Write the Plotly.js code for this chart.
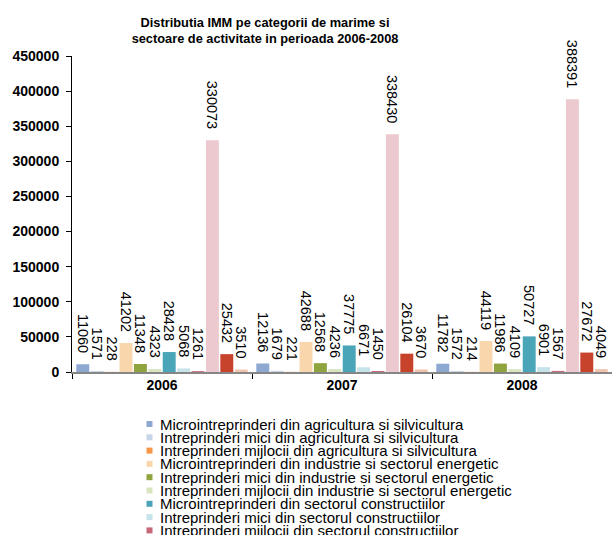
<!DOCTYPE html>
<html>
<head>
<meta charset="utf-8">
<script src="https://cdn.plot.ly/plotly-3.0.1.min.js"></script>
<style>
html,body{margin:0;padding:0;background:#fff;overflow:hidden;}
#chart{width:612px;height:535px;}
</style>
</head>
<body>
<div id="chart"></div>
<script>
const categories = ['2006', '2007', '2008'];

const seriesNames = [
  'Microintreprinderi din agricultura si silvicultura',
  'Intreprinderi mici din agricultura si silvicultura',
  'Intreprinderi mijlocii din agricultura si silvicultura',
  'Microintreprinderi din industrie si sectorul energetic',
  'Intreprinderi mici din industrie si sectorul energetic',
  'Intreprinderi mijlocii din industrie si sectorul energetic',
  'Microintreprinderi din sectorul constructiilor',
  'Intreprinderi mici din sectorul constructiilor',
  'Intreprinderi mijlocii din sectorul constructiilor',
  'Microintreprinderi din sectorul serviciilor',
  'Intreprinderi mici din sectorul serviciilor',
  'Intreprinderi mijlocii din sectorul serviciilor'
];

const values2006 = [11060, 1571, 228, 41202, 11348, 4323, 28428, 5068, 1261, 330073, 25432, 3510];
const values2007 = [12136, 1679, 221, 42688, 12568, 4236, 37775, 6671, 1450, 338430, 26104, 3670];
const values2008 = [11782, 1572, 214, 44119, 11986, 4109, 50727, 6901, 1567, 388391, 27672, 4049];

const colors = ['#8ea9d1', '#c8d5e9', '#f79646', '#f9d6ac', '#8fa33f', '#d9e5c0',
                '#4ba5b8', '#c5e3e8', '#c8677a', '#ecc9ce', '#c8432c', '#f0c2ab'];

const W = 612, H = 535, L = 72, R = 0, T = 56, B = 163;
const pw = W - L - R, ph = H - T - B;
function px(x) { return (x - L) / pw; }
function py(y) { return (H - B - y) / ph; }

const FONT = 'Liberation Sans, Arial, sans-serif';

const traces = seriesNames.map((name, i) => {
  const ys = [values2006[i], values2007[i], values2008[i]];
  return {
    type: 'bar',
    name: name,
    x: categories,
    y: ys,
    text: ys.map(v => String(v) + '\u00a0\u00a0'),
    textposition: 'outside',
    textangle: 90,
    constraintext: 'none',
    cliponaxis: false,
    textfont: {family: FONT, size: 14.5, color: '#000'},
    marker: {color: colors[i], line: {width: 0}},
    showlegend: false,
    hoverinfo: 'x+y+name'
  };
});

const annotations = [];
const shapes = [];
seriesNames.forEach((name, i) => {
  const cy = 424 + i * 13.3;
  annotations.push({
    xref: 'paper', yref: 'paper',
    x: px(158), y: py(cy),
    xanchor: 'left', yanchor: 'middle',
    text: name, showarrow: false,
    font: {family: FONT, size: 15, color: '#000'}
  });
  shapes.push({
    type: 'rect', xref: 'paper', yref: 'paper',
    x0: px(146.5), x1: px(152.5), y0: py(cy + 3), y1: py(cy - 3),
    fillcolor: colors[i], line: {width: 0}
  });
});

const layout = {
  width: W, height: H,
  margin: {l: L, r: R, t: T, b: B, pad: 0},
  paper_bgcolor: '#fff', plot_bgcolor: '#fff',
  font: {family: FONT, color: '#000'},
  title: {
    text: 'Distributia IMM pe categorii de marime si<br>sectoare de activitate in perioada 2006-2008',
    xref: 'container', yref: 'container',
    x: 265 / W, y: 1 - 26.5 / H,
    xanchor: 'center', yanchor: 'middle',
    font: {family: FONT, size: 12.8, weight: 'bold', color: '#000'}
  },
  barmode: 'group',
  bargap: 0.04,
  bargroupgap: 0.1,
  xaxis: {
    type: 'category',
    showline: true, linecolor: '#868686', linewidth: 1.5,
    ticks: 'outside', tickson: 'boundaries', ticklen: 5, tickcolor: '#000', tickwidth: 1,
    tickfont: {family: FONT, size: 14, weight: 'bold', color: '#000'},
    showgrid: false, zeroline: false,
    fixedrange: true
  },
  yaxis: {
    range: [0, 450000], dtick: 50000, tick0: 0,
    tickformat: 'd',
    showline: true, linecolor: '#000', linewidth: 1,
    ticks: 'outside', ticklen: 5, tickcolor: '#000', tickwidth: 1,
    ticklabelstandoff: 4,
    tickfont: {family: FONT, size: 14, weight: 'bold', color: '#000'},
    showgrid: false, zeroline: false,
    fixedrange: true
  },
  annotations: annotations,
  shapes: shapes
};

Plotly.newPlot('chart', traces, layout, {displayModeBar: false, staticPlot: true});
</script>
</body>
</html>
